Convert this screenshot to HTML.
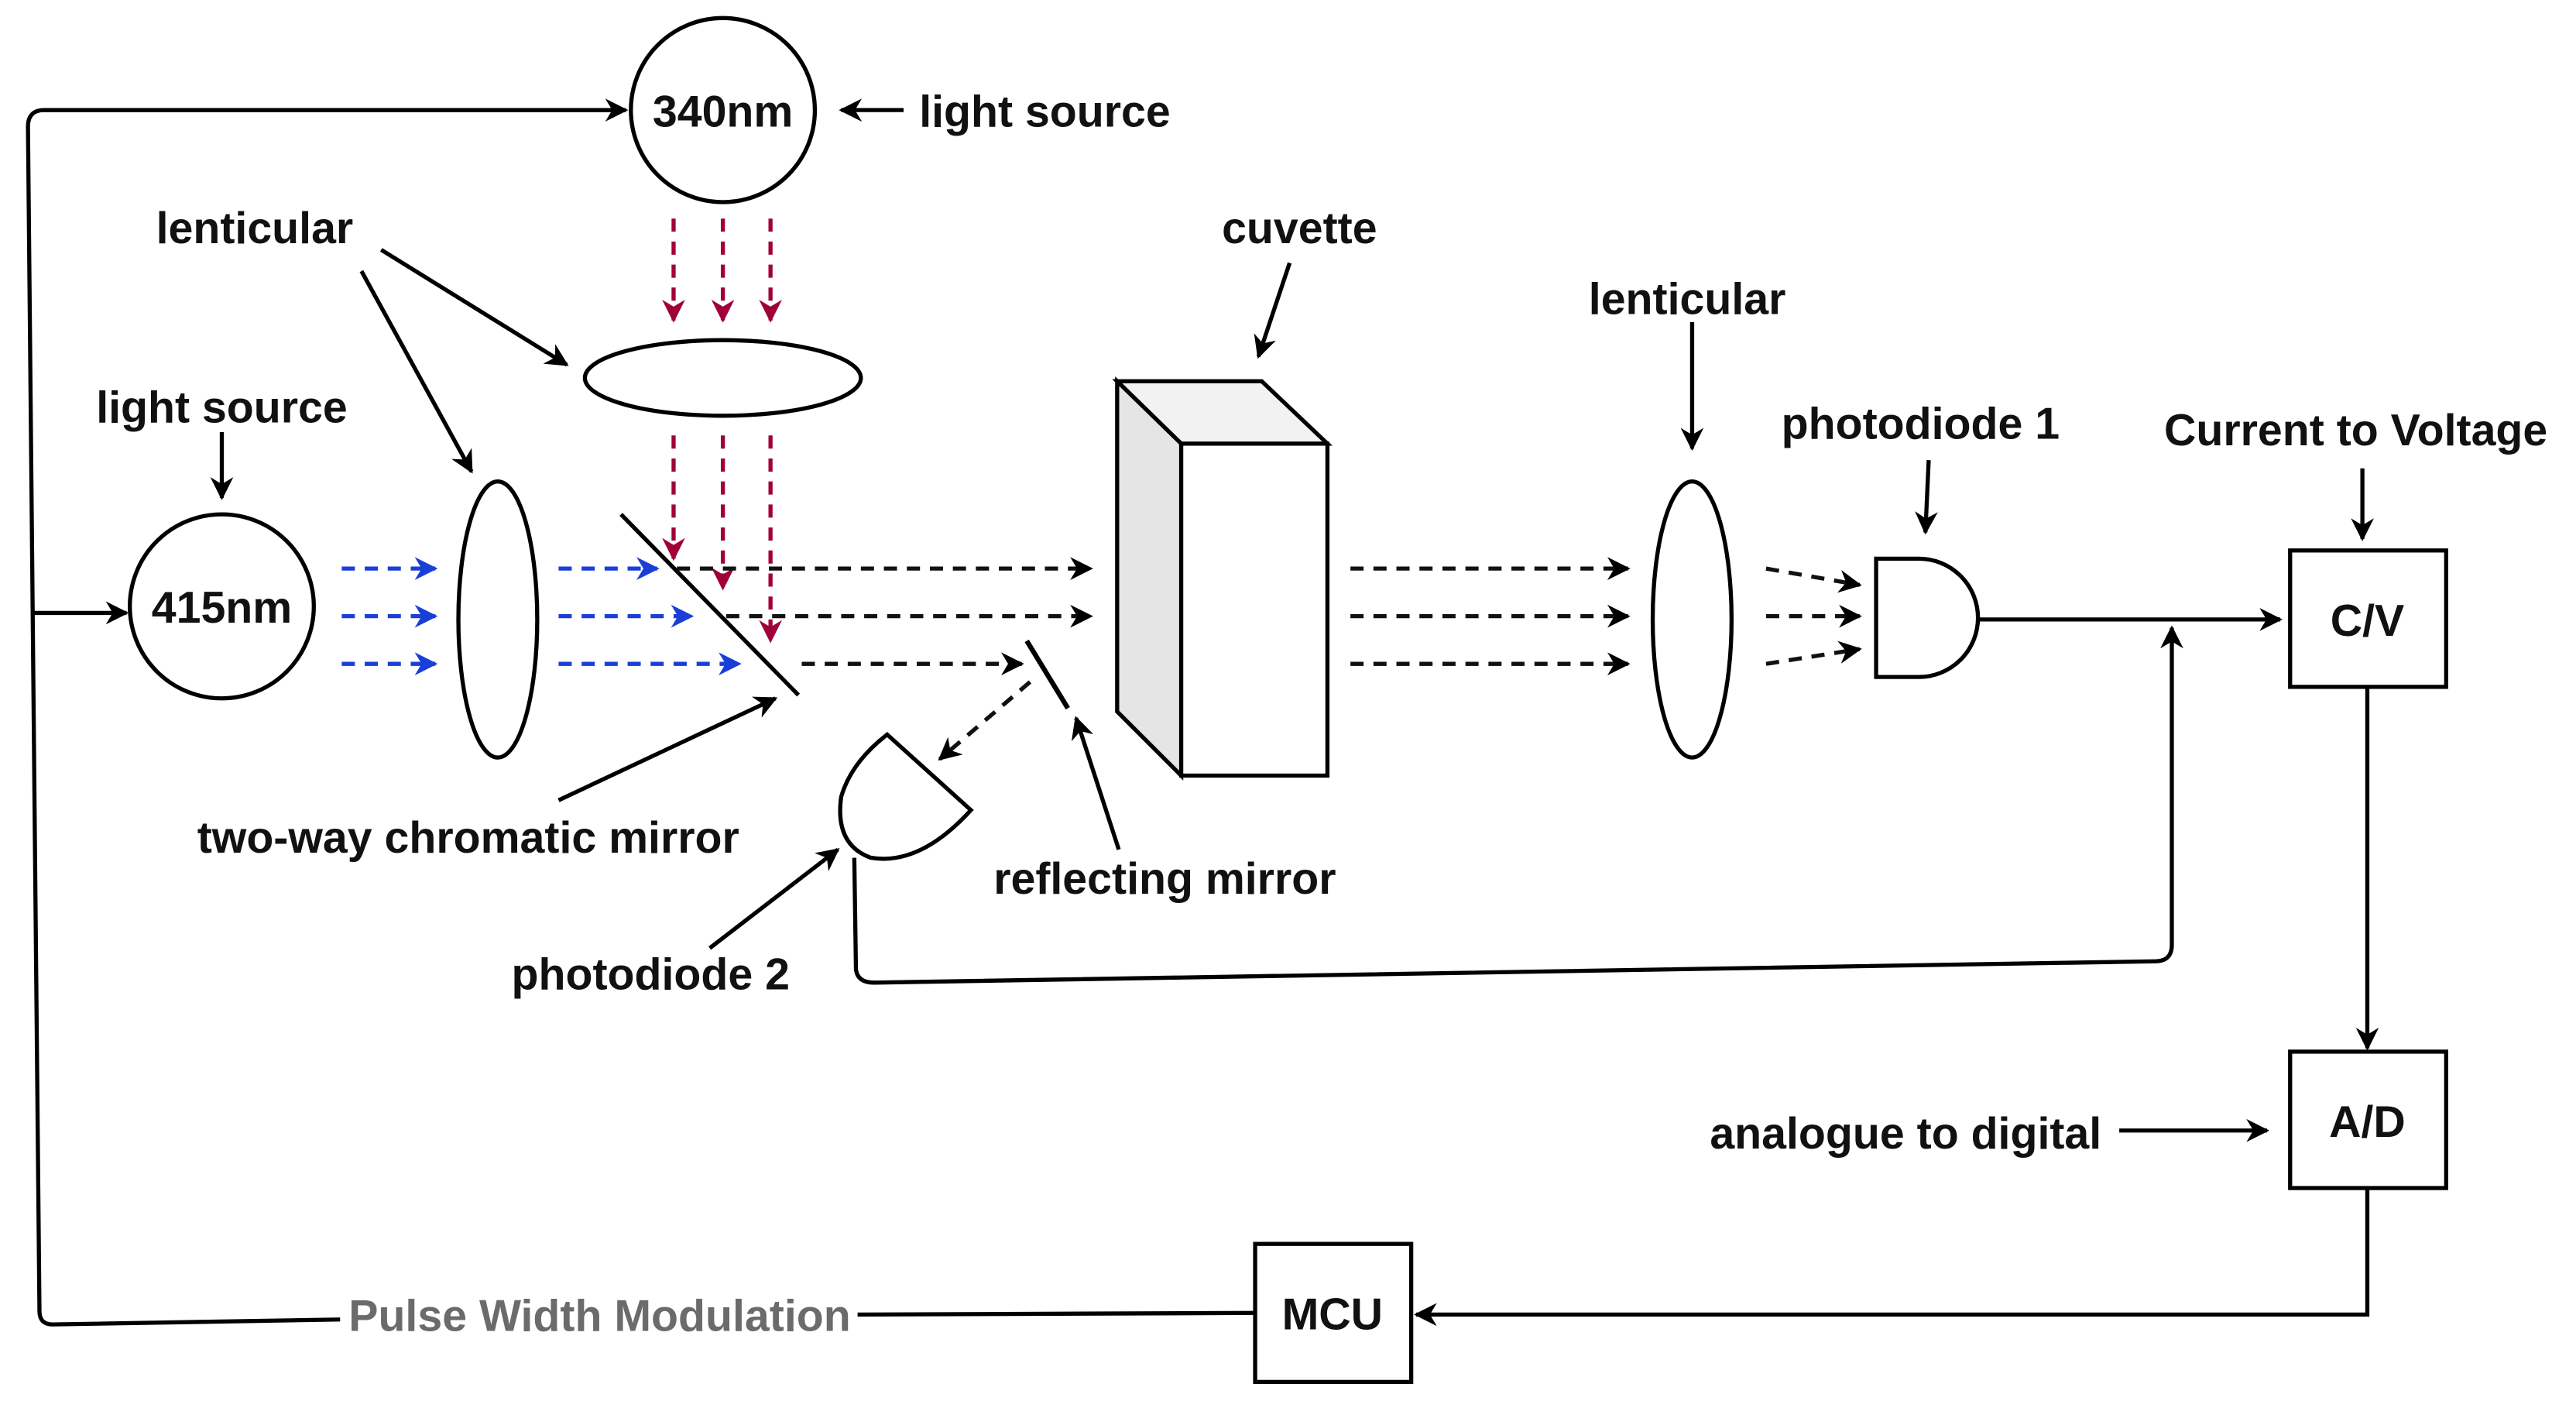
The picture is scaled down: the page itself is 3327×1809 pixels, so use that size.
<!DOCTYPE html>
<html><head><meta charset="utf-8"><style>
html,body{margin:0;padding:0;background:#fff;}
svg{display:block;}
text{font-family:"Liberation Sans",sans-serif;font-weight:bold;font-size:27px;fill:#111;text-anchor:middle;}
</style></head><body>
<svg width="3327" height="1809" viewBox="0 0 1568 852.6" xmlns="http://www.w3.org/2000/svg">
<defs>
<marker id="a" viewBox="0 0 10 10" refX="9" refY="5" markerWidth="14" markerHeight="14" orient="auto" markerUnits="userSpaceOnUse"><path d="M0,0 L10,5 L0,10 L3,5 Z" fill="#000"/></marker>
<marker id="ab" viewBox="0 0 10 10" refX="9" refY="5" markerWidth="14" markerHeight="14" orient="auto" markerUnits="userSpaceOnUse"><path d="M0,0 L10,5 L0,10 L3,5 Z" fill="#1a3fd6"/></marker>
<marker id="ar" viewBox="0 0 10 10" refX="9" refY="5" markerWidth="14" markerHeight="14" orient="auto" markerUnits="userSpaceOnUse"><path d="M0,0 L10,5 L0,10 L3,5 Z" fill="#a0003a"/></marker>
</defs>
<g fill="none" stroke="#000" stroke-width="2.5">
<circle cx="440" cy="67" r="56"/>
<circle cx="135" cy="369" r="56"/>
<ellipse cx="440" cy="230" rx="84" ry="23"/>
<ellipse cx="303" cy="377" rx="24" ry="84"/>
<ellipse cx="1030" cy="377" rx="24" ry="84"/>
<line x1="378" y1="313" x2="486" y2="423"/>
<line x1="625" y1="390" x2="650" y2="431" stroke-width="3"/>
<polygon points="680,232 768,232 808,270 719,270" fill="#f2f2f2"/>
<polygon points="680,232 719,270 719,472 680,433" fill="#e5e5e5"/>
<rect x="719" y="270" width="89" height="202" fill="#fff"/>
<path d="M1142,340 L1168,340 A36,36 0 0 1 1168,412 L1142,412 Z"/>
<path d="M540,447 L591,493 Q560,527 530,522 Q508,514 512,485 Q518,464 540,447 Z"/>
<rect x="1394" y="335" width="95" height="83"/>
<rect x="1394" y="640" width="95" height="83"/>
<rect x="764" y="757" width="95" height="84"/>
<path d="M520,522 L521,590 Q522,598 532,598 L1312,585 Q1322,585 1322,575 L1322,382" marker-end="url(#a)"/>
<line x1="1205" y1="377" x2="1388" y2="377" marker-end="url(#a)"/>
<line x1="1441" y1="418" x2="1441" y2="638" marker-end="url(#a)"/>
<path d="M1441,723 L1441,800 L862,800" marker-end="url(#a)"/>
<path d="M764,799 L522,800 M207,803 L32,806 Q24,806 24,798 L17,77 Q17,67 27,67 L381,67" />
<line x1="27" y1="67" x2="381" y2="67" marker-end="url(#a)"/>
<line x1="19" y1="373" x2="77" y2="373" marker-end="url(#a)"/>
<line x1="550" y1="67" x2="512" y2="67" marker-end="url(#a)"/>
<line x1="232" y1="152" x2="345" y2="222" marker-end="url(#a)"/>
<line x1="220" y1="165" x2="287" y2="287" marker-end="url(#a)"/>
<line x1="785" y1="160" x2="766" y2="217" marker-end="url(#a)"/>
<line x1="1030" y1="196" x2="1030" y2="273" marker-end="url(#a)"/>
<line x1="1174" y1="280" x2="1172" y2="324" marker-end="url(#a)"/>
<line x1="1438" y1="285" x2="1438" y2="328" marker-end="url(#a)"/>
<line x1="135" y1="263" x2="135" y2="303" marker-end="url(#a)"/>
<line x1="340" y1="487" x2="472" y2="425" marker-end="url(#a)"/>
<line x1="432" y1="577" x2="510" y2="517" marker-end="url(#a)"/>
<line x1="681" y1="517" x2="655" y2="437" marker-end="url(#a)"/>
<line x1="1290" y1="688" x2="1380" y2="688" marker-end="url(#a)"/>
</g>
<g fill="none" stroke-width="2.5" stroke-dasharray="8,6">
<g stroke="#1a3fd6">
<line x1="208" y1="346" x2="265" y2="346" marker-end="url(#ab)"/>
<line x1="208" y1="375" x2="265" y2="375" marker-end="url(#ab)"/>
<line x1="208" y1="404" x2="265" y2="404" marker-end="url(#ab)"/>
<line x1="340" y1="346" x2="400" y2="346" marker-end="url(#ab)"/>
<line x1="340" y1="375" x2="421" y2="375" marker-end="url(#ab)"/>
<line x1="340" y1="404" x2="450" y2="404" marker-end="url(#ab)"/>
</g>
<g stroke="#a0003a">
<line x1="410" y1="133" x2="410" y2="195" marker-end="url(#ar)"/>
<line x1="440" y1="133" x2="440" y2="195" marker-end="url(#ar)"/>
<line x1="469" y1="133" x2="469" y2="195" marker-end="url(#ar)"/>
<line x1="410" y1="265" x2="410" y2="340" marker-end="url(#ar)"/>
<line x1="440" y1="265" x2="440" y2="358" marker-end="url(#ar)"/>
<line x1="469" y1="265" x2="469" y2="390" marker-end="url(#ar)"/>
</g>
<g stroke="#111">
<line x1="412" y1="346" x2="664" y2="346" marker-end="url(#a)"/>
<line x1="442" y1="375" x2="664" y2="375" marker-end="url(#a)"/>
<line x1="488" y1="404" x2="622" y2="404" marker-end="url(#a)"/>
<line x1="627" y1="415" x2="572" y2="462" marker-end="url(#a)"/>
<line x1="822" y1="346" x2="991" y2="346" marker-end="url(#a)"/>
<line x1="822" y1="375" x2="991" y2="375" marker-end="url(#a)"/>
<line x1="822" y1="404" x2="991" y2="404" marker-end="url(#a)"/>
<line x1="1075" y1="346" x2="1132" y2="356" marker-end="url(#a)"/>
<line x1="1075" y1="375" x2="1132" y2="375" marker-end="url(#a)"/>
<line x1="1075" y1="404" x2="1132" y2="395" marker-end="url(#a)"/>
</g>
</g>
<text x="440" y="77">340nm</text>
<text x="135" y="379">415nm</text>
<text x="636" y="77">light source</text>
<text x="155" y="148">lenticular</text>
<text x="135" y="257">light source</text>
<text x="791" y="148">cuvette</text>
<text x="1027" y="191">lenticular</text>
<text x="1169" y="267">photodiode 1</text>
<text x="1434" y="271">Current to Voltage</text>
<text x="1441" y="387">C/V</text>
<text x="1441" y="692">A/D</text>
<text x="811" y="809">MCU</text>
<text x="285" y="519">two-way chromatic mirror</text>
<text x="709" y="544">reflecting mirror</text>
<text x="396" y="602">photodiode 2</text>
<text x="1160" y="699">analogue to digital</text>
<text x="365" y="810" style="fill:#6b6b6b">Pulse Width Modulation</text>
</svg>
</body></html>
